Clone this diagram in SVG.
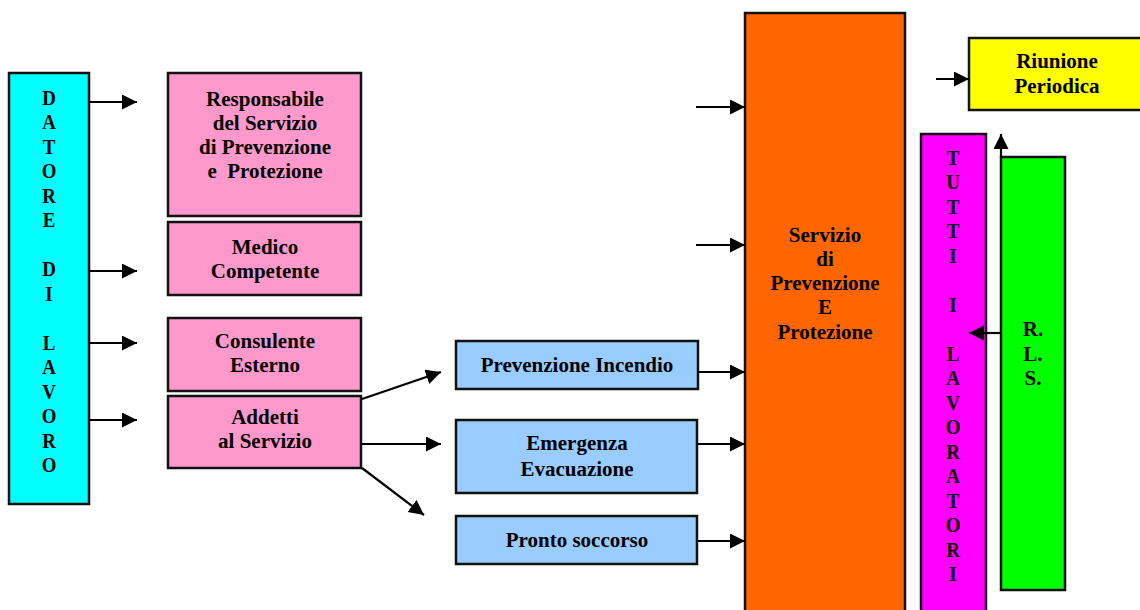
<svg xmlns="http://www.w3.org/2000/svg" width="1140" height="610" viewBox="0 0 1140 610">
<style>
.box{stroke:#111;stroke-width:2.5}
.t{font-family:"Liberation Serif","Times New Roman",serif;font-weight:bold;font-size:21px;fill:#000;text-anchor:middle}
.c{stroke:#000;stroke-width:2.2;fill:none}
</style>
<defs>
<marker id="ah" markerUnits="userSpaceOnUse" markerWidth="16" markerHeight="16" refX="15" refY="7.5" orient="auto">
<path d="M0,0 L15,7.5 L0,15 z" fill="#000"/>
</marker>
</defs>
<rect width="1140" height="610" fill="#fff"/>

<g id="datore">
<rect class="box" x="9" y="73" width="80" height="431" fill="#00FFFF"/>
<g transform="translate(49 0) scale(0.9 1)">
<text class="t" x="0" y="105">D</text>
<text class="t" x="0" y="129.5">A</text>
<text class="t" x="0" y="154">T</text>
<text class="t" x="0" y="178.5">O</text>
<text class="t" x="0" y="203">R</text>
<text class="t" x="0" y="227.5">E</text>
<text class="t" x="0" y="276.5">D</text>
<text class="t" x="0" y="301">I</text>
<text class="t" x="0" y="350">L</text>
<text class="t" x="0" y="374.5">A</text>
<text class="t" x="0" y="399">V</text>
<text class="t" x="0" y="423.5">O</text>
<text class="t" x="0" y="448">R</text>
<text class="t" x="0" y="472.5">O</text>
</g>
</g>

<g id="rspp">
<rect class="box" x="168" y="73" width="193" height="143" fill="#FF99CC"/>
<text class="t" x="265" y="106">Responsabile</text>
<text class="t" x="265" y="130">del Servizio</text>
<text class="t" x="265" y="154">di Prevenzione</text>
<text class="t" x="265" y="178" xml:space="preserve">e  Protezione</text>
</g>

<g id="medico">
<rect class="box" x="168" y="222" width="193" height="73" fill="#FF99CC"/>
<text class="t" x="265" y="254">Medico</text>
<text class="t" x="265" y="278">Competente</text>
</g>

<g id="consulente">
<rect class="box" x="168" y="318" width="193" height="73" fill="#FF99CC"/>
<text class="t" x="265" y="348">Consulente</text>
<text class="t" x="265" y="372">Esterno</text>
</g>

<g id="addetti">
<rect class="box" x="168" y="396" width="193" height="72" fill="#FF99CC"/>
<text class="t" x="265" y="424">Addetti</text>
<text class="t" x="265" y="448">al Servizio</text>
</g>

<g id="incendio">
<rect class="box" x="456" y="341" width="242" height="48" fill="#99CCFF"/>
<text class="t" x="577" y="372">Prevenzione Incendio</text>
</g>

<g id="emergenza">
<rect class="box" x="456" y="420" width="241" height="73" fill="#99CCFF"/>
<text class="t" x="577" y="450">Emergenza</text>
<text class="t" x="577" y="476">Evacuazione</text>
</g>

<g id="soccorso">
<rect class="box" x="456" y="516" width="241" height="48" fill="#99CCFF"/>
<text class="t" x="577" y="547">Pronto soccorso</text>
</g>

<g id="spp">
<rect class="box" x="745" y="13" width="160" height="610" fill="#FF6600"/>
<text class="t" x="825" y="242">Servizio</text>
<text class="t" x="825" y="266">di</text>
<text class="t" x="825" y="290">Prevenzione</text>
<text class="t" x="825" y="314">E</text>
<text class="t" x="825" y="339">Protezione</text>
</g>

<g id="riunione">
<rect class="box" x="969" y="38" width="177" height="72" fill="#FFFF00"/>
<text class="t" x="1057" y="68">Riunione</text>
<text class="t" x="1057" y="93">Periodica</text>
</g>

<g id="lavoratori">
<rect class="box" x="921" y="134" width="65" height="490" fill="#FF00FF"/>
<g transform="translate(953 0) scale(0.9 1)">
<text class="t" x="0" y="165">T</text>
<text class="t" x="0" y="189.5">U</text>
<text class="t" x="0" y="214">T</text>
<text class="t" x="0" y="238.5">T</text>
<text class="t" x="0" y="263">I</text>
<text class="t" x="0" y="312">I</text>
<text class="t" x="0" y="361">L</text>
<text class="t" x="0" y="385.5">A</text>
<text class="t" x="0" y="410">V</text>
<text class="t" x="0" y="434.5">O</text>
<text class="t" x="0" y="459">R</text>
<text class="t" x="0" y="483.5">A</text>
<text class="t" x="0" y="508">T</text>
<text class="t" x="0" y="532.5">O</text>
<text class="t" x="0" y="557">R</text>
<text class="t" x="0" y="581.5">I</text>
</g>
</g>

<g id="rls">
<rect class="box" x="1001" y="157" width="64" height="433" fill="#00FF00"/>
<text class="t" x="1033" y="336">R.</text>
<text class="t" x="1033" y="361">L.</text>
<text class="t" x="1033" y="385">S.</text>
</g>

<g id="connectors">
<line class="c" x1="89" y1="102" x2="137" y2="102" marker-end="url(#ah)"/>
<line class="c" x1="89" y1="271" x2="137" y2="271" marker-end="url(#ah)"/>
<line class="c" x1="89" y1="343" x2="137" y2="343" marker-end="url(#ah)"/>
<line class="c" x1="89" y1="420" x2="137" y2="420" marker-end="url(#ah)"/>
<line class="c" x1="696" y1="107" x2="745" y2="107" marker-end="url(#ah)"/>
<line class="c" x1="696" y1="245" x2="745" y2="245" marker-end="url(#ah)"/>
<line class="c" x1="698" y1="372" x2="745" y2="372" marker-end="url(#ah)"/>
<line class="c" x1="698" y1="444" x2="745" y2="444" marker-end="url(#ah)"/>
<line class="c" x1="698" y1="541" x2="745" y2="541" marker-end="url(#ah)"/>
<line class="c" x1="362" y1="399" x2="441" y2="372" marker-end="url(#ah)"/>
<line class="c" x1="362" y1="444" x2="441" y2="444" marker-end="url(#ah)"/>
<line class="c" x1="362" y1="468" x2="424" y2="515" marker-end="url(#ah)"/>
<line class="c" x1="936" y1="79" x2="969" y2="79" marker-end="url(#ah)"/>
<line class="c" x1="1001" y1="157" x2="1001" y2="134" marker-end="url(#ah)"/>
<line class="c" x1="1001" y1="333" x2="969" y2="333" marker-end="url(#ah)"/>
</g>
</svg>
